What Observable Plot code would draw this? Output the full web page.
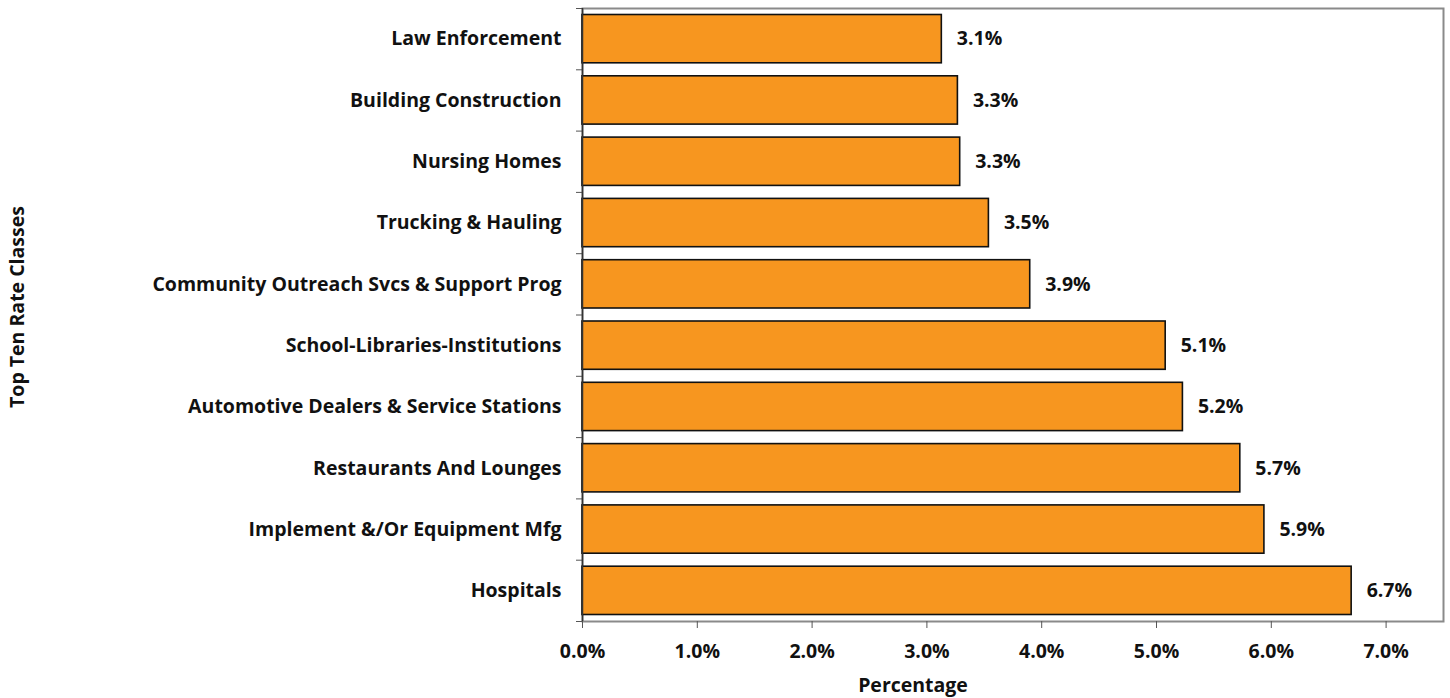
<!DOCTYPE html>
<html>
<head>
<meta charset="utf-8">
<script src="https://cdn.jsdelivr.net/npm/d3@7"></script>
<script src="https://cdn.jsdelivr.net/npm/@observablehq/plot@0.6"></script>
<style>
  html, body { margin: 0; padding: 0; background: #fff; }
  svg { display: block; }
</style>
</head>
<body>
<div id="chart"></div>
<script>
const categories = [
  "Law Enforcement",
  "Building Construction",
  "Nursing Homes",
  "Trucking & Hauling",
  "Community Outreach Svcs & Support Prog",
  "School-Libraries-Institutions",
  "Automotive Dealers & Service Stations",
  "Restaurants And Lounges",
  "Implement &/Or Equipment Mfg",
  "Hospitals"
];
const values = [3.13, 3.27, 3.29, 3.54, 3.90, 5.08, 5.23, 5.73, 5.94, 6.70];
const xTicks = [0, 1, 2, 3, 4, 5, 6, 7];
const yTitle = "Top Ten Rate Classes";
const xTitle = "Percentage";

const data = categories.map((c, i) => ({name: c, value: values[i], idx: i}));
const fmt = v => v.toFixed(1) + "%";
const font = "'Open Sans', 'Noto Sans', sans-serif";
const fs = 19.5;

const chart = Plot.plot({
  width: 1450,
  height: 698,
  marginLeft: 582,
  marginRight: 7,
  marginTop: 8,
  marginBottom: 77,
  style: {fontFamily: font, fontSize: fs + "px", fontWeight: "bold", color: "#111", background: "#fff"},
  x: {domain: [0, 7.5]},
  y: {domain: [0, categories.length], reverse: true},
  marks: [
    Plot.frame({stroke: "#8a8a8a", strokeWidth: 2}),
    Plot.rectX(data, {
      x1: 0, x2: "value",
      y1: d => d.idx, y2: d => d.idx + 1,
      insetTop: 6.5, insetBottom: 6.5,
      fill: "#F7961F", stroke: "#111", strokeWidth: 1.6
    }),
    Plot.text(data, {
      x: "value", y: d => d.idx + 0.5, text: d => fmt(d.value),
      dx: 15, textAnchor: "start", fill: "#111", fontSize: fs, fontWeight: "bold"
    }),
    Plot.axisX({ticks: xTicks, tickFormat: fmt, tickSize: 7, tickPadding: 16, stroke: "#555", label: null, fontSize: fs, fontWeight: "bold"}),
    Plot.axisY({ticks: d3.range(categories.length + 1), tickSize: 6, tickFormat: () => "", stroke: "#555", label: null}),
    Plot.axisY({
      ticks: d3.range(categories.length).map(i => i + 0.5),
      tickSize: 0, tickPadding: 21,
      tickFormat: v => categories[Math.floor(v)],
      label: null, fontSize: fs, fontWeight: "bold"
    }),
    Plot.ruleX([0], {stroke: "#333", strokeWidth: 1.5}),
    Plot.text([yTitle], {frameAnchor: "left", dx: -565, dy: -8, rotate: -90, textAnchor: "middle", lineAnchor: "middle", fontSize: fs, fontWeight: "bold", fill: "#111"}),
    Plot.text([xTitle], {frameAnchor: "bottom", dx: -100, dy: 64, textAnchor: "middle", lineAnchor: "middle", fontSize: fs, fontWeight: "bold", fill: "#111"})
  ]
});
document.getElementById("chart").append(chart);
</script>
</body>
</html>
